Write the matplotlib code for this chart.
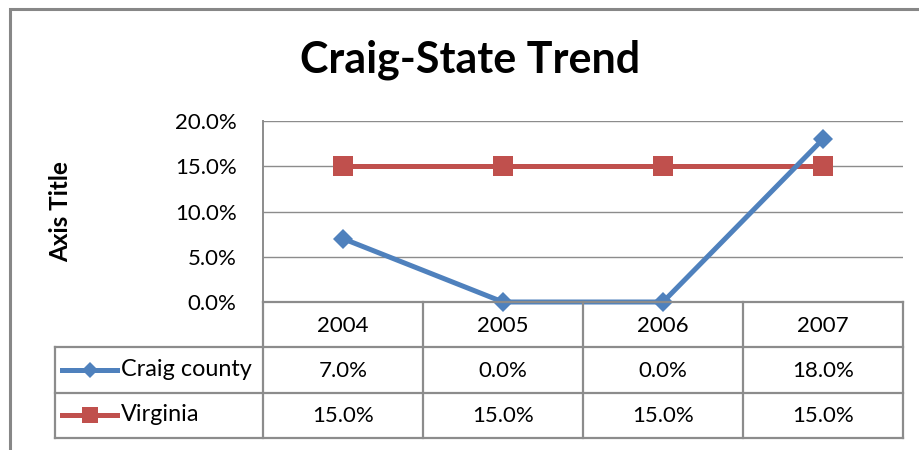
import matplotlib
matplotlib.use("Agg")
import matplotlib.pyplot as plt
from matplotlib.patches import Rectangle
from matplotlib.ticker import FuncFormatter, MultipleLocator

plt.rcParams['font.family'] = ['Lato', 'DejaVu Sans']

years = ["2004", "2005", "2006", "2007"]
series_names = ["Craig county", "Virginia"]
craig = [0.07, 0.0, 0.0, 0.18]
virginia = [0.15, 0.15, 0.15, 0.15]
series_values = [craig, virginia]
colors = ["#4F81BD", "#C0504D"]
markers = ["D", "s"]
msizes = [10, 14]
title = "Craig-State Trend"
ylabel = "Axis Title"

W, H = 920, 450
fig = plt.figure(figsize=(W / 100, H / 100), dpi=100)

def fx(px):
    return px / W

def fy(py):
    return 1 - py / H

FS = 16

# outer chart border (only top/left visible)
fig.patches.append(Rectangle((fx(10), fy(470)), fx(930) - fx(10), fy(9) - fy(470),
                             transform=fig.transFigure, fill=False,
                             edgecolor="#878787", linewidth=2.2, zorder=0))

# main plot axes
L, R, T, B = 263, 903, 121, 302
ax = fig.add_axes([fx(L), fy(B), fx(R) - fx(L), fy(T) - fy(B)])
ax.set_xlim(-0.5, len(years) - 0.5)
ax.set_ylim(0, 0.20)
ax.yaxis.set_major_locator(MultipleLocator(0.05))
ax.yaxis.set_major_formatter(FuncFormatter(lambda v, p: f"{v*100:.1f}%"))
ax.grid(axis='y', color="#8C8C8C", linewidth=1.0)
ax.set_axisbelow(True)
for s in ["top", "right", "bottom"]:
    ax.spines[s].set_visible(False)
ax.spines["left"].set_color("#8C8C8C")
ax.spines["left"].set_linewidth(1.4)
ax.tick_params(axis='y', length=0, labelsize=FS, pad=19)
ax.tick_params(axis='x', length=0, labelbottom=False)
xs = list(range(len(years)))
for name, vals, c, m, ms in zip(series_names, series_values, colors, markers, msizes):
    ax.plot(xs, vals, color=c, linewidth=3.6, marker=m, markersize=ms,
            markeredgewidth=0, clip_on=False, zorder=3 if m == "D" else 2)

fig.text(fx(61), fy(212), ylabel, rotation=90, ha="center", va="center",
         fontsize=17.5, fontweight="bold")
fig.text(fx(470), fy(60), title, ha="center", va="center", fontsize=31,
         fontweight="bold")

# data table
TL, TT, TB = 55, 302, 438
leg_w = (L - TL) / ((R - L) / len(years))
tax = fig.add_axes([fx(TL), fy(TB), fx(R) - fx(TL), fy(TT) - fy(TB)])
tax.set_xlim(-0.5 - leg_w, len(years) - 0.5)
tax.set_ylim(3, 0)
tax.axis("off")
lc = "#8C8C8C"
lw = 1.6
x0 = -0.5 - leg_w
x1 = len(years) - 0.5
tax.plot([-0.5, x1], [0, 0], color=lc, lw=lw, clip_on=False)
for yy in [1, 2, 3]:
    tax.plot([x0, x1], [yy, yy], color=lc, lw=lw, clip_on=False)
for i in range(len(years) + 1):
    tax.plot([i - 0.5, i - 0.5], [0, 3], color=lc, lw=lw, clip_on=False)
tax.plot([x0, x0], [1, 3], color=lc, lw=lw, clip_on=False)

for i, yr in enumerate(years):
    tax.text(i, 0.52, yr, ha="center", va="center", fontsize=FS)
for r, (name, vals, c, m, ms) in enumerate(zip(series_names, series_values, colors, markers, msizes)):
    yrow = 1.5 + r
    for i, v in enumerate(vals):
        tax.text(i, yrow + 0.02, f"{v*100:.1f}%", ha="center", va="center", fontsize=FS)
    kx0 = x0 + 0.045
    kx1 = x0 + 0.39
    tax.plot([kx0, kx1], [yrow, yrow], color=c, lw=3.6, clip_on=False)
    tax.plot([(kx0 + kx1) / 2], [yrow], color=c, marker=m, markersize=ms * 0.85,
             markeredgewidth=0, clip_on=False)
    tax.text(x0 + 0.41, yrow - 0.02, name, ha="left", va="center", fontsize=16.8)

fig.savefig("out.png", dpi=100)
